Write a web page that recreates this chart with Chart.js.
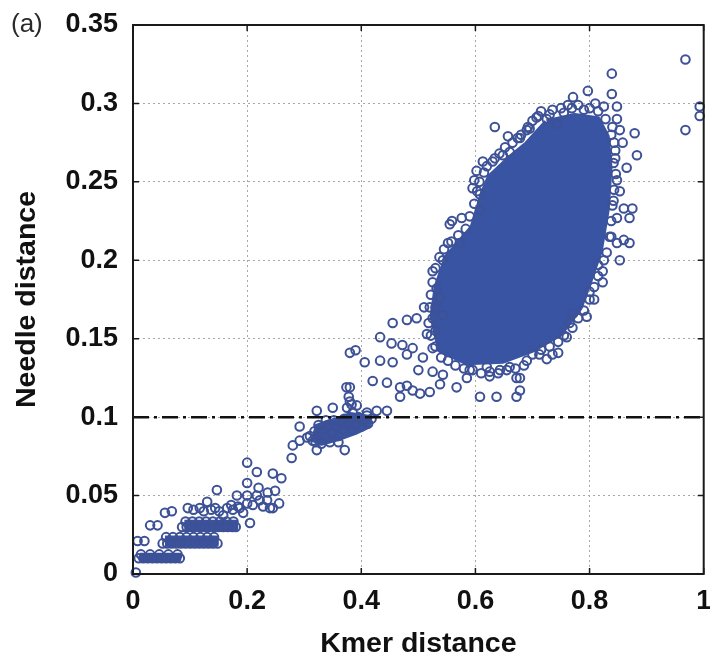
<!DOCTYPE html>
<html><head><meta charset="utf-8">
<script src="https://cdn.jsdelivr.net/npm/chart.js@4"></script>
<style>html,body{margin:0;padding:0;background:#fff}</style>
</head><body>
<canvas id="c" width="710" height="664"></canvas>
<script>
// ---------- data ----------
const xTickLabels = ['0','0.2','0.4','0.6','0.8','1'];
const yTickLabels = ['0','0.05','0.1','0.15','0.2','0.25','0.3','0.35'];
const xTitle = 'Kmer distance';
const yTitle = 'Needle distance';
const panelLabel = '(a)';

// threshold line
const thresholdX = [0, 1];
const thresholdY = [0.1, 0.1];

// outlines of the saturated (solid) areas where circles overlap completely
const coreX = [0.725,0.774,0.814,0.830,0.835,0.830,0.818,0.800,0.783,0.748,0.700,0.648,0.585,0.538,0.525,0.532,0.550,0.595,0.613,0.625,0.660,0.690,0.725];
const coreY = [0.288,0.292,0.290,0.279,0.259,0.232,0.206,0.187,0.170,0.153,0.143,0.136,0.135,0.143,0.164,0.183,0.202,0.221,0.2425,0.253,0.265,0.274,0.288];
const band1X = [0.012,0.080,0.082,0.012];
const band1Y = [0.009,0.009,0.012,0.012];
const band2X = [0.056,0.146,0.146,0.056];
const band2Y = [0.019,0.019,0.023,0.023];
const band3X = [0.090,0.180,0.180,0.090];
const band3Y = [0.029,0.029,0.033,0.033];
const midX = [0.312,0.330,0.360,0.390,0.414,0.416,0.400,0.380,0.360,0.340,0.318];
const midY = [0.086,0.083,0.086,0.090,0.094,0.100,0.101,0.102,0.099,0.097,0.094];

// individual circles
const originBands = [
  [0.005,0.001],
  [0.010,0.010],[0.018,0.010],[0.026,0.010],[0.034,0.010],[0.042,0.010],[0.050,0.010],[0.058,0.010],[0.066,0.010],[0.074,0.010],[0.082,0.010],
  [0.014,0.0125],[0.030,0.0125],[0.046,0.0125],[0.062,0.0125],[0.078,0.0125],
  [0.008,0.021],[0.020,0.021],
  [0.052,0.0195],[0.060,0.0195],[0.068,0.0195],[0.076,0.0195],[0.084,0.0195],[0.092,0.0195],[0.100,0.0195],[0.108,0.0195],[0.116,0.0195],[0.124,0.0195],[0.132,0.0195],[0.140,0.0195],[0.148,0.0195],
  [0.058,0.0235],[0.070,0.0235],[0.082,0.0235],[0.094,0.0235],[0.106,0.0235],[0.118,0.0235],[0.130,0.0235],[0.142,0.0235],
  [0.030,0.031],[0.043,0.031],
  [0.086,0.030],[0.094,0.030],[0.102,0.030],[0.110,0.030],[0.118,0.030],[0.126,0.030],[0.134,0.030],[0.142,0.030],[0.150,0.030],[0.158,0.030],[0.166,0.030],[0.174,0.030],[0.180,0.030],
  [0.092,0.0335],[0.104,0.0335],[0.116,0.0335],[0.128,0.0335],[0.140,0.0335],[0.152,0.0335],[0.164,0.0335],[0.176,0.0335]
];
const lowScatter = [
  [0.056,0.039],[0.068,0.040],[0.096,0.042],[0.117,0.042],[0.130,0.046],[0.144,0.042],[0.158,0.0375],[0.165,0.042],
  [0.175,0.041],[0.147,0.0535],[0.184,0.043],[0.193,0.039],[0.187,0.042],[0.200,0.045],[0.210,0.044],[0.228,0.043],
  [0.245,0.042],[0.235,0.047],[0.182,0.050],[0.200,0.050],[0.217,0.050],[0.236,0.052],[0.249,0.053],[0.205,0.0325],
  [0.200,0.058],[0.200,0.071],[0.217,0.065],[0.245,0.064],[0.260,0.061],[0.220,0.055],[0.240,0.042],
  [0.106,0.041],[0.124,0.040],[0.137,0.041],[0.151,0.040],[0.172,0.044],[0.222,0.047],[0.256,0.045]
];
const midCluster = [
  [0.278,0.074],[0.280,0.082],[0.292,0.085],[0.292,0.094],[0.305,0.087],[0.310,0.088],[0.318,0.091],[0.326,0.088],
  [0.334,0.092],[0.320,0.084],[0.330,0.083],[0.340,0.087],[0.350,0.090],[0.342,0.095],[0.355,0.094],[0.360,0.088],
  [0.368,0.092],[0.375,0.095],[0.370,0.099],[0.382,0.097],[0.390,0.095],[0.395,0.100],[0.403,0.098],[0.410,0.101],
  [0.418,0.099],[0.345,0.084],[0.360,0.084],[0.385,0.092],[0.400,0.094],[0.325,0.095],[0.338,0.098],[0.385,0.103],
  [0.375,0.106],[0.380,0.110],[0.378,0.113],[0.383,0.108],[0.322,0.079],[0.371,0.079],[0.322,0.104],[0.350,0.106],
  [0.374,0.119],[0.392,0.1075],[0.410,0.103],[0.352,0.098],[0.365,0.096],[0.330,0.090],[0.315,0.085],[0.412,0.096]
];
const bridge = [
  [0.427,0.104],[0.445,0.104],[0.420,0.123],[0.445,0.122],[0.468,0.119],[0.468,0.113],[0.490,0.117],[0.503,0.115],
  [0.380,0.141],[0.390,0.1426],[0.406,0.135],[0.433,0.136],[0.455,0.135],[0.433,0.151],[0.455,0.160],[0.480,0.162],
  [0.497,0.163],[0.453,0.147],[0.472,0.146],[0.490,0.144],[0.508,0.138],[0.380,0.119],[0.480,0.140],[0.525,0.144],
  [0.500,0.130],[0.525,0.129],[0.543,0.127],[0.480,0.120],[0.520,0.116],[0.538,0.121],[0.567,0.119],[0.585,0.125],
  [0.525,0.193],[0.525,0.163],[0.543,0.165],[0.515,0.153],[0.510,0.170],[0.530,0.155]
];
const blobEdge = [
  [0.590,0.130],[0.620,0.132],[0.643,0.130],[0.672,0.125],[0.608,0.113],[0.637,0.113],[0.672,0.113],[0.625,0.126],
  [0.660,0.132],[0.690,0.136],[0.678,0.125],[0.678,0.117],[0.725,0.137],[0.735,0.140],[0.745,0.141],[0.712,0.140],
  [0.760,0.151],[0.765,0.160],[0.771,0.166],[0.795,0.164],[0.800,0.180],[0.808,0.175],[0.823,0.193],[0.823,0.186],
  [0.815,0.197],[0.853,0.200],[0.870,0.211],[0.848,0.211],[0.860,0.213],[0.838,0.215],[0.848,0.227],[0.870,0.227],
  [0.860,0.233],[0.875,0.233],[0.842,0.238],[0.853,0.244],[0.848,0.251],[0.865,0.259],[0.842,0.262],[0.883,0.267],
  [0.858,0.275],[0.879,0.281],[0.845,0.270],[0.853,0.283],[0.848,0.290],[0.838,0.280],[0.848,0.298],[0.825,0.298],
  [0.810,0.300],[0.839,0.306],[0.839,0.319],[0.797,0.308],[0.771,0.304],[0.769,0.297],[0.790,0.296],[0.755,0.294],
  [0.743,0.287],[0.725,0.290],[0.710,0.292],[0.730,0.293],[0.707,0.291],[0.692,0.285],[0.690,0.283],[0.674,0.278],
  [0.678,0.278],[0.657,0.279],[0.634,0.285],[0.660,0.269],[0.648,0.267],[0.634,0.265],[0.613,0.263],[0.602,0.257],
  [0.598,0.251],[0.595,0.246],[0.608,0.242],[0.608,0.232],[0.576,0.227],[0.559,0.225],[0.573,0.211],[0.552,0.211],
  [0.555,0.223],[0.543,0.200],[0.532,0.182],[0.538,0.176],[0.530,0.170]
];
const blobFringe = [
  [0.700,0.289],[0.715,0.295],[0.735,0.296],[0.750,0.297],[0.762,0.299],[0.780,0.299],[0.800,0.297],[0.815,0.295],[0.828,0.290],
  [0.840,0.285],[0.843,0.275],[0.845,0.265],[0.846,0.255],[0.843,0.245],[0.840,0.235],[0.838,0.225],[0.835,0.215],[0.830,0.205],[0.825,0.200],
  [0.815,0.190],[0.808,0.183],[0.800,0.175],[0.790,0.168],[0.780,0.163],[0.770,0.157],[0.755,0.152],[0.745,0.148],[0.730,0.145],[0.715,0.143],[0.700,0.140],
  [0.685,0.133],[0.670,0.131],[0.655,0.130],[0.640,0.128],[0.625,0.129],[0.610,0.128],[0.595,0.130],[0.580,0.131],[0.565,0.133],[0.552,0.136],[0.540,0.138],
  [0.530,0.145],[0.522,0.152],[0.518,0.160],[0.520,0.170],[0.522,0.178],[0.525,0.186],[0.530,0.195],[0.537,0.202],[0.545,0.207],[0.558,0.212],[0.570,0.216],[0.583,0.220],
  [0.590,0.228],[0.598,0.236],[0.603,0.244],[0.607,0.250],[0.615,0.256],[0.620,0.260],[0.630,0.263],[0.642,0.268],[0.652,0.272],[0.665,0.275],[0.680,0.280],[0.695,0.284]
];
const outliers = [[0.968,0.328],[0.993,0.298],[0.993,0.292],[0.968,0.283]];

// ---------- chart ----------
const toXY = arr => arr.map(p => ({x: p[0], y: p[1]}));
const zipXY = (xs, ys) => xs.map((x, i) => ({x, y: ys[i]}));
const circles = toXY([].concat(originBands, lowScatter, midCluster, bridge, blobEdge, blobFringe, outliers));
const threshold = zipXY(thresholdX, thresholdY);

const BLUE = '#3a54a4';
const RING = '#3d5196';
Chart.defaults.font.family = '"Liberation Sans", Arial, Helvetica, sans-serif';

const solid = (xs, ys, w) => ({ data: zipXY(xs, ys), showLine: true, fill: 'shape', backgroundColor: BLUE,
  borderColor: BLUE, borderWidth: w, borderJoinStyle: 'round', pointRadius: 0, tension: 0 });

const frame = {
  id: 'frame',
  afterDatasetsDraw(chart) {
    const {ctx, chartArea: a, scales: {x, y}} = chart;
    ctx.save();
    ctx.strokeStyle = '#1a1a1a';
    ctx.lineWidth = 2;
    ctx.strokeRect(a.left, a.top, a.right - a.left, a.bottom - a.top);
    ctx.lineWidth = 1.5;
    ctx.beginPath();
    x.ticks.forEach(t => {
      const px = x.getPixelForValue(t.value);
      ctx.moveTo(px, a.bottom); ctx.lineTo(px, a.bottom - 6);
      ctx.moveTo(px, a.top); ctx.lineTo(px, a.top + 6);
    });
    y.ticks.forEach(t => {
      const py = y.getPixelForValue(t.value);
      ctx.moveTo(a.left, py); ctx.lineTo(a.left + 6, py);
      ctx.moveTo(a.right, py); ctx.lineTo(a.right - 6, py);
    });
    ctx.stroke();
    ctx.fillStyle = '#2a2a2a';
    ctx.font = '26px "Liberation Sans", Arial, sans-serif';
    ctx.textBaseline = 'middle';
    ctx.textAlign = 'left';
    ctx.fillText(panelLabel, 11, 25);
    ctx.restore();
  }
};

new Chart(document.getElementById('c'), {
  type: 'scatter',
  data: {
    datasets: [
      { data: threshold, showLine: true, borderColor: '#111', borderWidth: 2.5,
        borderDash: [16, 5, 3, 5], pointRadius: 0, fill: false },
      { data: circles, pointStyle: 'circle', pointRadius: 4.3, pointBorderWidth: 2,
        pointBorderColor: RING, pointBackgroundColor: 'rgba(0,0,0,0)', showLine: false, clip: false },
      solid(midX, midY, 4),
      solid(band3X, band3Y, 5),
      solid(band2X, band2Y, 5),
      solid(band1X, band1Y, 5),
      solid(coreX, coreY, 6)
    ]
  },
  options: {
    responsive: false,
    animation: false,
    layout: { padding: { top: 25, right: 6, left: 0, bottom: 0 } },
    plugins: { legend: { display: false }, tooltip: { enabled: false } },
    scales: {
      x: {
        type: 'linear', min: 0, max: 1,
        ticks: { stepSize: 0.2, padding: 11, color: '#111', maxRotation: 0,
          font: { size: 27, weight: 'bold' },
          callback: (v, i) => xTickLabels[i] },
        grid: { color: '#a8a8a8', lineWidth: 1, drawTicks: false },
        border: { display: false, dash: [2, 3] },
        title: { display: true, text: xTitle, color: '#111',
          font: { size: 28.5, weight: 'bold', lineHeight: 1.2 }, padding: { top: 0, bottom: 3 } },
        afterFit: s => { s.height = 90; s.paddingLeft = 0; s.paddingRight = 0; }
      },
      y: {
        type: 'linear', min: 0, max: 0.35,
        ticks: { stepSize: 0.05, padding: 15, color: '#111',
          font: { size: 27, weight: 'bold' },
          callback: (v, i) => yTickLabels[i] },
        grid: { color: '#a8a8a8', lineWidth: 1, drawTicks: false },
        border: { display: false, dash: [2, 3] },
        title: { display: true, text: yTitle, color: '#111',
          font: { size: 28.5, weight: 'bold', lineHeight: 1.2 }, padding: { top: 10, bottom: 0 } },
        afterFit: s => { s.width = 133; s.paddingTop = 0; s.paddingBottom = 0; }
      }
    }
  },
  plugins: [frame]
});
</script>
</body></html>
